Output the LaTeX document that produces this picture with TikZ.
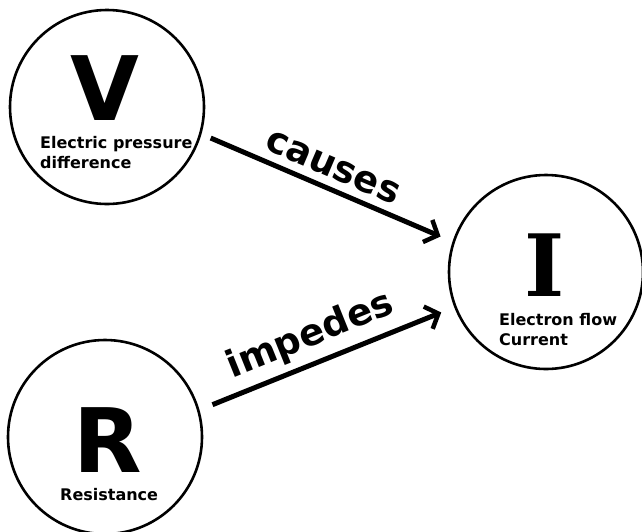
\documentclass[tikz,border=0pt]{standalone}
\usepackage{fontspec}
\setmainfont{DejaVu Sans}
\newfontfamily\slabfont{DejaVu Serif}
\usetikzlibrary{arrows.meta}
\tikzset{
  bubble/.style={circle, draw, line width=2.6pt, minimum size=194pt, inner sep=0pt},
  bigletter/.style={font=\fontsize{89}{89}\selectfont\bfseries, inner sep=0pt, anchor=base},
  caption/.style={font=\fontsize{16}{20}\selectfont\bfseries, align=left, inner sep=0pt, anchor=base west},
  verb/.style={font=\fontsize{37}{37}\selectfont\bfseries, sloped, inner sep=2pt},
  link/.style={line width=5pt, -{Straight Barb[length=11pt, width=24pt, line width=4.5pt]}}
}
\begin{document}
\begin{tikzpicture}[x=1pt, y=-1pt]
  \useasboundingbox (0,0) rectangle (642,531);

  % the three quantities
  \node[bubble] (V) at (107,107) {};
  \node[bubble] (I) at (546,272) {};
  \node[bubble] (R) at (105,437) {};

  \node[bigletter] (Vsym) at (105,120) {V};
  \node[bigletter, font=\fontsize{86}{86}\selectfont\bfseries\slabfont] (Isym) at (545,296) {I};
  \node[bigletter] (Rsym) at (108,472) {R};

  % captions: the anchor is the baseline of the last line
  \node[caption] (Vtxt) at (40,168) {Electric pressure\\difference};
  \node[caption] (Itxt) at (499,345) {Electron flow\\Current};
  \node[caption] (Rtxt) at (60,500) {Resistance};

  % relations
  \draw[link, shorten <=10pt, shorten >=13pt] (V.-16.75) -- (I.162)
    node[verb, pos=0.49, above=6pt] {causes};
  \draw[link, shorten <=14pt, shorten >=14pt] (R.16) -- (I.201.5)
    node[verb, pos=0.475, above=5pt] {impedes};
\end{tikzpicture}
\end{document}
